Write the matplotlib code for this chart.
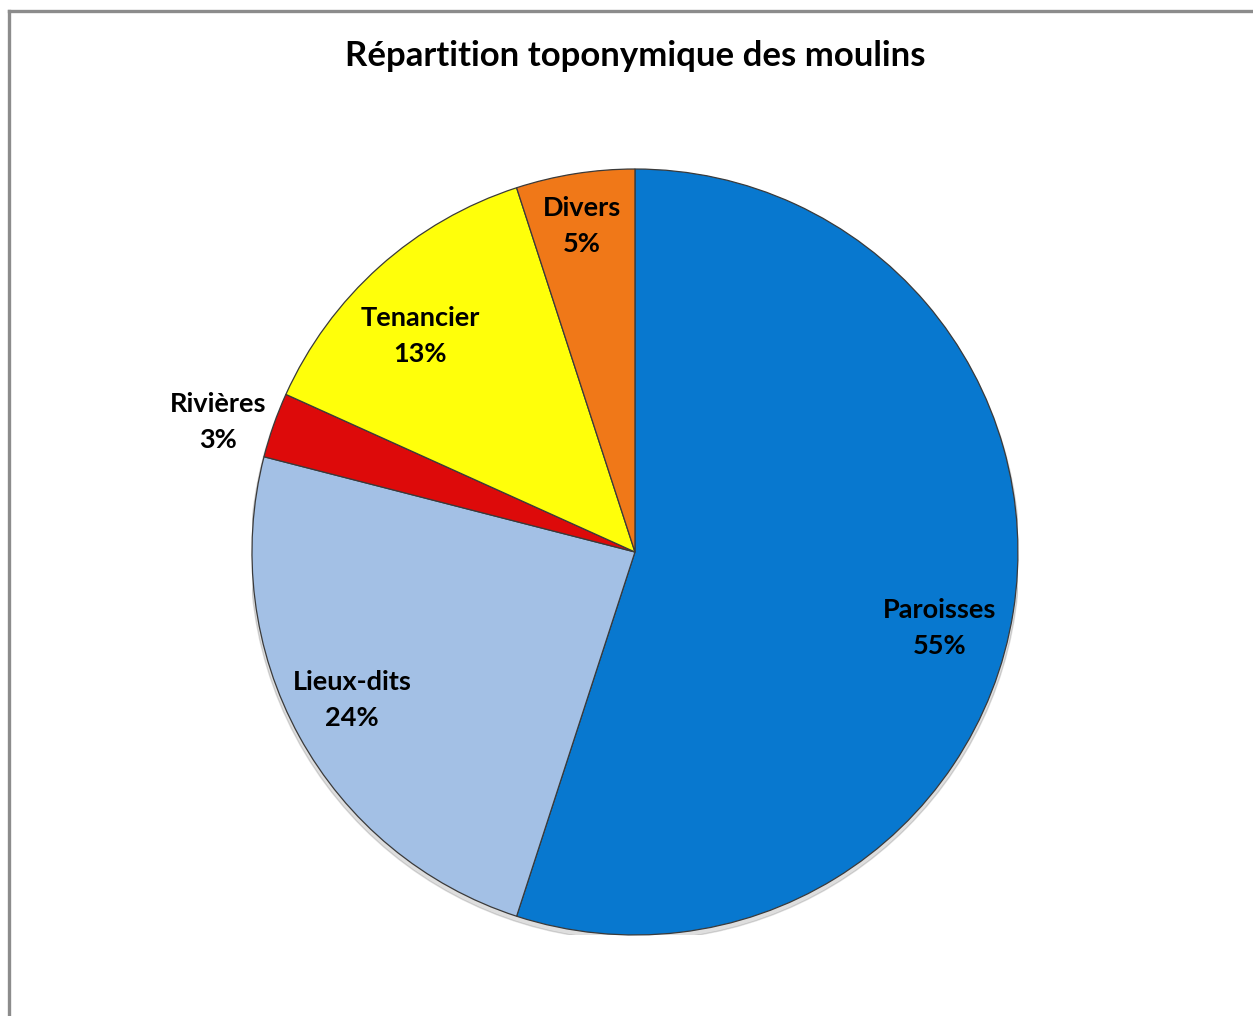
import matplotlib
matplotlib.use("Agg")
import matplotlib.pyplot as plt
from matplotlib.lines import Line2D

categories = ["Paroisses", "Lieux-dits", "Rivières", "Tenancier", "Divers"]
values = [55.0, 24.0, 2.75, 13.25, 5.0]
colors = ["#0878CF", "#A3C0E5", "#DD0A0A", "#FFFF0A", "#F07818"]
label_pos = [(0.796, -0.198), (-0.739, -0.386), (-1.089, 0.339), (-0.561, 0.564), (-0.138, 0.851)]

plt.rcParams['font.family'] = ['Lato', 'DejaVu Sans']

fig = plt.figure(figsize=(12.53, 10.16), dpi=100)
fig.patch.set_facecolor("white")

# frame (left and top visible)
fig.add_artist(Line2D([0.0068, 0.0068], [0.0, 0.989], transform=fig.transFigure, color="#8c8c8c", lw=2.4))
fig.add_artist(Line2D([0.0068, 1.0], [0.989, 0.989], transform=fig.transFigure, color="#8c8c8c", lw=2.4))

ax = fig.add_axes([0.2011, 0.0797, 0.6113, 0.754])
ax.set_xlim(-1, 1)
ax.set_ylim(-1, 1)
ax.set_aspect("equal")
ax.axis("off")

# subtle shadow
shadow = plt.Circle((0.0, -0.010), 1.004, color="#000000", alpha=0.13, zorder=0)
ax.add_patch(shadow)

wedges, _ = ax.pie(values, colors=colors, startangle=90, counterclock=False, radius=1.0,
                   wedgeprops=dict(edgecolor="#3a3a3a", linewidth=0.9), center=(0, 0), frame=False)
for w in wedges:
    w.set_zorder(2)
ax.set_xlim(-1, 1)
ax.set_ylim(-1, 1)

total = sum(values)
for cat, v, (x, y) in zip(categories, values, label_pos):
    ax.text(x, y, f"{cat}\n{round(100 * v / total):.0f}%", ha="center", va="center",
            fontsize=19.5, fontweight="bold", color="black", linespacing=1.6,
            clip_on=False, zorder=5)

fig.text(0.5068, 0.9445, "Répartition toponymique des moulins", ha="center", va="center",
         fontsize=25, fontweight="bold", color="black")

fig.savefig("out.png", dpi=100)
